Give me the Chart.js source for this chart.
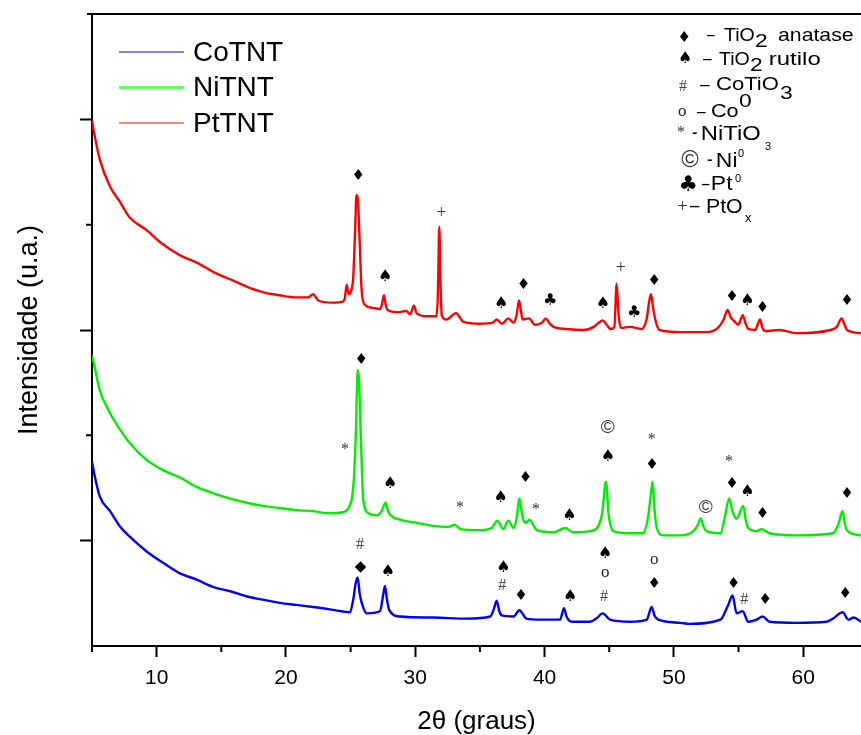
<!DOCTYPE html>
<html lang="pt">
<head>
<meta charset="UTF-8" />
<script src="https://cdn.jsdelivr.net/npm/chart.js@4.4.0/dist/chart.umd.min.js"></script>
<title>DRX - TNT</title>
<style>
  html, body { margin: 0; padding: 0; background: #fff; }
  canvas { display: block; }
</style>
</head>
<body>
<canvas id="chart" width="861" height="735"></canvas>
<script>
// 2θ (graus) e intensidade (u.a., com deslocamento vertical) de cada amostra
const coTheta = [5.0, 5.2, 5.6, 6.4, 7.2, 7.9, 9.2, 10.5, 11.8, 13.1, 14.4, 15.7, 17.0, 18.2, 19.5, 20.8, 22.1, 23.3, 24.3, 24.95, 25.2, 25.4, 25.54, 25.7, 25.86, 26.25, 27.27, 27.5, 27.66, 27.8, 27.99, 28.8, 31.4, 34.0, 35.8, 36.1, 36.3, 36.5, 36.7, 37.6, 38.05, 38.6, 39.65, 41.2, 41.5, 41.7, 42.1, 43.5, 44.0, 44.5, 45.06, 46.6, 47.9, 48.28, 48.5, 48.8, 50.5, 51.2, 53.6, 54.2, 54.54, 54.85, 55.32, 55.75, 56.4, 56.86, 57.4, 59.5, 61.8, 62.3, 63.05, 63.5, 63.9, 64.47];
const coInt = [1.75, 1.62, 1.42, 1.28, 1.13, 1.04, 0.90, 0.79, 0.69, 0.63, 0.56, 0.52, 0.47, 0.44, 0.41, 0.39, 0.37, 0.35, 0.33, 0.32, 0.44, 0.60, 0.65, 0.50, 0.41, 0.31, 0.33, 0.47, 0.57, 0.45, 0.34, 0.28, 0.27, 0.26, 0.28, 0.36, 0.43, 0.33, 0.29, 0.28, 0.34, 0.26, 0.25, 0.25, 0.36, 0.28, 0.23, 0.23, 0.26, 0.31, 0.25, 0.23, 0.25, 0.37, 0.29, 0.25, 0.22, 0.21, 0.25, 0.39, 0.48, 0.31, 0.33, 0.23, 0.25, 0.28, 0.23, 0.22, 0.23, 0.26, 0.32, 0.25, 0.27, 0.23];

const niTheta = [5.0, 5.2, 5.6, 6.4, 7.2, 7.9, 9.2, 10.5, 11.8, 13.1, 14.4, 15.7, 17.0, 18.2, 19.5, 20.8, 22.1, 23.2, 24.4, 24.8, 24.95, 25.1, 25.25, 25.4, 25.55, 25.65, 25.8, 25.98, 26.4, 27.0, 27.4, 27.7, 27.9, 28.1, 28.8, 30.1, 31.4, 32.5, 33.07, 33.5, 35.0, 35.9, 36.35, 36.8, 37.2, 37.6, 37.85, 38.05, 38.2, 38.35, 38.6, 38.82, 39.4, 40.7, 41.6, 42.2, 43.5, 44.2, 44.45, 44.75, 44.95, 45.1, 45.3, 46.6, 47.6, 48.0, 48.2, 48.35, 48.5, 48.66, 49.2, 50.5, 51.5, 51.85, 52.07, 52.3, 52.53, 53.6, 53.95, 54.27, 54.55, 54.85, 55.37, 55.55, 55.75, 56.4, 56.8, 57.4, 59.5, 62.3, 62.7, 63.05, 63.2, 63.36, 64.47];
const niInt = [2.76, 2.65, 2.43, 2.21, 2.05, 1.93, 1.77, 1.67, 1.60, 1.51, 1.45, 1.40, 1.36, 1.33, 1.31, 1.29, 1.28, 1.26, 1.27, 1.30, 1.34, 1.40, 1.58, 2.00, 2.62, 2.52, 1.95, 1.39, 1.26, 1.24, 1.28, 1.36, 1.28, 1.24, 1.20, 1.17, 1.14, 1.13, 1.15, 1.11, 1.10, 1.12, 1.19, 1.11, 1.19, 1.12, 1.22, 1.40, 1.30, 1.20, 1.17, 1.20, 1.10, 1.08, 1.12, 1.08, 1.09, 1.15, 1.26, 1.56, 1.25, 1.15, 1.09, 1.07, 1.07, 1.22, 1.42, 1.56, 1.30, 1.13, 1.05, 1.05, 1.09, 1.15, 1.21, 1.13, 1.09, 1.07, 1.23, 1.40, 1.27, 1.21, 1.33, 1.20, 1.12, 1.09, 1.11, 1.07, 1.05, 1.07, 1.15, 1.28, 1.18, 1.10, 1.05];

const ptTheta = [5.0, 5.2, 5.6, 6.4, 7.2, 7.9, 9.2, 10.3, 11.8, 13.1, 14.4, 15.7, 17.0, 18.2, 19.5, 20.8, 21.7, 22.1, 22.5, 23.6, 24.4, 24.55, 24.7, 24.85, 25.0, 25.2, 25.35, 25.45, 25.55, 25.7, 25.85, 26.1, 26.7, 27.3, 27.45, 27.58, 27.7, 27.85, 28.6, 29.3, 29.6, 29.9, 30.1, 30.9, 31.65, 31.75, 31.86, 31.95, 32.05, 32.4, 33.15, 33.7, 35.0, 36.0, 36.3, 36.7, 37.2, 37.6, 37.85, 38.02, 38.15, 38.3, 38.8, 39.26, 39.8, 40.1, 40.4, 40.7, 41.7, 43.0, 43.8, 44.2, 44.5, 44.8, 45.1, 45.4, 45.57, 45.72, 45.9, 46.6, 47.5, 47.9, 48.1, 48.23, 48.35, 48.54, 48.9, 50.5, 52.5, 53.4, 53.85, 54.15, 54.4, 54.7, 54.98, 55.32, 55.55, 55.75, 56.3, 56.5, 56.66, 56.85, 57.05, 58.2, 59.5, 62.1, 62.6, 62.97, 63.2, 63.4, 64.47];
const ptInt = [4.99, 4.85, 4.62, 4.36, 4.21, 4.07, 3.95, 3.83, 3.71, 3.64, 3.55, 3.48, 3.41, 3.36, 3.33, 3.31, 3.31, 3.34, 3.28, 3.26, 3.27, 3.30, 3.43, 3.34, 3.36, 3.50, 3.95, 4.28, 4.25, 3.85, 3.38, 3.24, 3.21, 3.20, 3.26, 3.33, 3.25, 3.19, 3.17, 3.18, 3.15, 3.23, 3.16, 3.13, 3.13, 3.35, 3.98, 3.45, 3.14, 3.10, 3.16, 3.08, 3.06, 3.07, 3.10, 3.06, 3.11, 3.07, 3.15, 3.28, 3.20, 3.10, 3.11, 3.05, 3.07, 3.11, 3.06, 3.03, 3.01, 3.00, 3.03, 3.07, 3.09, 3.05, 3.01, 3.03, 3.44, 3.15, 3.02, 3.03, 3.01, 3.11, 3.28, 3.34, 3.25, 3.11, 3.00, 2.98, 2.98, 3.02, 3.10, 3.19, 3.12, 3.08, 3.05, 3.14, 3.06, 3.01, 3.00, 3.06, 3.10, 3.02, 2.99, 3.00, 2.97, 3.00, 3.03, 3.11, 3.05, 3.00, 2.97];

// identificação das fases sobre cada difratograma
const coMarkTheta = [25.73, 25.78, 27.87, 36.81, 36.73, 38.15, 41.97, 44.67, 44.67, 44.6, 48.47, 48.47, 54.6, 55.45, 57.05, 63.24];
const coMarkLevel = [0.975, 0.75, 0.72, 0.76, 0.58, 0.49, 0.48, 0.89, 0.69, 0.48, 0.82, 0.60, 0.60, 0.45, 0.45, 0.51];
const coMarkSym = ['#', '◆', '♠', '♠', '#', '♦', '♠', '♠', 'o', '#', 'o', '♦', '♦', '#', '♦', '♦'];

const niMarkTheta = [25.8, 24.57, 28.05, 33.46, 36.6, 38.5, 39.34, 41.9, 44.88, 44.88, 48.28, 48.28, 52.46, 54.27, 54.47, 55.68, 56.84, 63.37];
const niMarkLevel = [2.73, 1.89, 1.56, 1.34, 1.42, 1.61, 1.32, 1.25, 2.08, 1.81, 1.99, 1.73, 1.32, 1.78, 1.55, 1.48, 1.27, 1.46];
const niMarkSym = ['♦', '*', '♠', '*', '♠', '♦', '*', '♠', '©', '♠', '*', '♦', '©', '*', '♦', '♠', '♦', '♦'];

const ptMarkTheta = [25.57, 27.66, 32.0, 36.63, 38.36, 40.42, 44.5, 45.89, 46.92, 48.47, 54.47, 55.68, 56.84, 63.37];
const ptMarkLevel = [4.48, 3.52, 4.13, 3.27, 3.44, 3.29, 3.27, 3.61, 3.18, 3.48, 3.33, 3.29, 3.22, 3.29];
const ptMarkSym = ['♦', '♠', '+', '♠', '♦', '♣', '♠', '+', '♣', '♦', '♦', '♠', '♦', '♦'];

const xTicks = [10, 20, 30, 40, 50, 60];
const xMinorTicks = [5, 15, 25, 35, 45, 55];
const yTicks = [1, 3, 5];
const yMinorTicks = [2, 4];

const SANS = '"Liberation Sans", Arial, sans-serif';
const SERIF = '"Liberation Serif", "Times New Roman", serif';

const pts = (xs, ys) => xs.map((x, i) => ({ x: x, y: ys[i] }));

const glyphStyle = {
  '♦': { font: '15px "DejaVu Sans"', color: '#000' },
  '◆': { font: '15px "DejaVu Sans"', color: '#000' },
  '♠': { font: '16px "DejaVu Sans"', color: '#000' },
  '♣': { font: '16px "DejaVu Sans"', color: '#000' },
  '#': { font: '16px ' + SERIF, color: '#444' },
  'o': { font: '17px ' + SERIF, color: '#222' },
  '*': { font: '16px ' + SERIF, color: '#333' },
  '+': { font: '18px ' + SERIF, color: '#333' },
  '©': { font: '19px ' + SANS, color: '#333' }
};

// desenha um símbolo centrado em (cx, cy) pela caixa real do glifo
function drawGlyph(ctx, s, cx, cy, k) {
  const st = glyphStyle[s];
  ctx.save();
  ctx.translate(cx, cy);
  if (k) ctx.scale(k, k);
  ctx.font = st.font;
  ctx.fillStyle = st.color;
  ctx.textAlign = 'left';
  ctx.textBaseline = 'alphabetic';
  const m = ctx.measureText(s);
  const w = m.actualBoundingBoxLeft + m.actualBoundingBoxRight;
  const h = m.actualBoundingBoxAscent + m.actualBoundingBoxDescent;
  ctx.fillText(s, -w / 2 + m.actualBoundingBoxLeft, h / 2 - m.actualBoundingBoxDescent);
  ctx.restore();
}

const phaseMarks = {
  id: 'phaseMarks',
  afterDatasetsDraw(chart) {
    const { ctx, scales: { x, y } } = chart;
    const sets = [
      [coMarkTheta, coMarkLevel, coMarkSym],
      [niMarkTheta, niMarkLevel, niMarkSym],
      [ptMarkTheta, ptMarkLevel, ptMarkSym]
    ];
    sets.forEach(([th, lv, sy]) => {
      th.forEach((t, i) => drawGlyph(ctx, sy[i], x.getPixelForValue(t), y.getPixelForValue(lv[i])));
    });
  }
};

// legenda das fases (canto superior direito): [texto, x, linha de base, tamanho, largura]
const keyRows = [
  { sym: '♦', cx: 684, cy: 36, k: 1, parts: [['–', 707, 40, 19, 8], ['TiO', 724, 40.5, 19, 30], ['2', 755, 47, 19, 12], ['anatase', 778, 40.5, 19, 75]] },
  { sym: '♠', cx: 685, cy: 57, k: 1, parts: [['–', 703, 64, 19, 9], ['TiO', 719, 64.5, 19, 30], ['2', 750, 70.5, 19, 12], ['rutilo', 770, 64.5, 19, 50]] },
  { sym: '#', cx: 683, cy: 85, k: 1, parts: [['–', 700, 90, 19, 10], ['CoTiO', 716, 90, 19, 62], ['3', 780, 98.5, 19, 12]] },
  { sym: 'o', cx: 682, cy: 112, k: 1, parts: [['–', 697, 116.5, 19, 9], ['Co', 711, 116.5, 19, 27], ['0', 739, 107, 19, 12]] },
  { sym: '*', cx: 681, cy: 129, k: 1, parts: [['-', 692, 139, 20, 5], ['NiTiO', 702, 140, 20, 58], ['3', 765, 150, 11, 6]] },
  { sym: '©', cx: 690, cy: 158.5, k: 1.25, parts: [['-', 707, 166, 20, 5], ['Ni', 717, 167, 20, 20], ['0', 738, 157, 11, 6]] },
  { sym: '♣', cx: 688, cy: 182.5, k: 1.35, parts: [['–', 702, 190, 20, 8], ['Pt', 712, 190, 20, 21], ['0', 735, 182, 11, 6]] },
  { sym: '+', cx: 682.5, cy: 205, k: 1, parts: [['–', 690, 212, 20, 10], ['PtO', 707, 213, 20, 35], ['x', 745, 222, 13, 7]] }
];

const phaseKey = {
  id: 'phaseKey',
  afterDraw(chart) {
    const ctx = chart.ctx;
    keyRows.forEach(row => {
      drawGlyph(ctx, row.sym, row.cx, row.cy, row.k);
      row.parts.forEach(([t, px, py, size, wd]) => {
        ctx.save();
        ctx.font = size + 'px ' + SANS;
        ctx.fillStyle = '#000';
        ctx.textAlign = 'left';
        ctx.textBaseline = 'alphabetic';
        const m = ctx.measureText(t);
        const ink = m.actualBoundingBoxLeft + m.actualBoundingBoxRight;
        const sx = wd / ink;
        ctx.translate(px + m.actualBoundingBoxLeft * sx, py);
        ctx.scale(sx, 1);
        ctx.fillText(t, 0, 0);
        ctx.restore();
      });
    });
  }
};

// legenda das amostras, dentro da área do gráfico
const sampleLegend = {
  id: 'sampleLegend',
  afterDraw(chart) {
    const ctx = chart.ctx;
    ctx.save();
    chart.data.datasets.forEach((ds, i) => {
      const yy = 52 + i * 35.5;
      ctx.strokeStyle = ds.legendColor;
      ctx.lineWidth = ds.legendWidth;
      ctx.beginPath();
      ctx.moveTo(119, yy);
      ctx.lineTo(184, yy);
      ctx.stroke();
      ctx.fillStyle = '#000';
      ctx.font = '28px ' + SANS;
      ctx.textAlign = 'left';
      ctx.textBaseline = 'middle';
      ctx.fillText(ds.label, 193, yy + 1);
    });
    ctx.restore();
  }
};

// moldura superior e marcas secundárias dos eixos
const frame = {
  id: 'frame',
  afterDraw(chart) {
    const { ctx, chartArea: a, scales: { x, y } } = chart;
    ctx.save();
    ctx.strokeStyle = '#000';
    ctx.lineWidth = 2;
    ctx.beginPath();
    ctx.moveTo(a.left - 5, a.top);
    ctx.lineTo(a.right, a.top);
    ctx.stroke();
    ctx.beginPath();
    xMinorTicks.forEach(v => {
      const px = x.getPixelForValue(v);
      ctx.moveTo(px, a.bottom);
      ctx.lineTo(px, a.bottom + 6);
    });
    yMinorTicks.forEach(v => {
      const py = y.getPixelForValue(v);
      ctx.moveTo(a.left, py);
      ctx.lineTo(a.left - 6, py);
    });
    ctx.stroke();
    ctx.restore();
  }
};

new Chart(document.getElementById('chart'), {
  type: 'line',
  data: {
    datasets: [
      { label: 'CoTNT', data: pts(coTheta, coInt), borderColor: '#0000ff', legendColor: '#0000ff', legendWidth: 1.2 },
      { label: 'NiTNT', data: pts(niTheta, niInt), borderColor: '#00ee00', legendColor: '#66ff66', legendWidth: 3 },
      { label: 'PtTNT', data: pts(ptTheta, ptInt), borderColor: '#ff0000', legendColor: '#ff0000', legendWidth: 1.2 }
    ]
  },
  options: {
    responsive: false,
    animation: false,
    events: [],
    layout: { padding: { top: 14, right: 0, bottom: 0, left: 0 } },
    elements: {
      line: { borderWidth: 2.4, cubicInterpolationMode: 'monotone' },
      point: { radius: 0 }
    },
    plugins: { legend: { display: false }, tooltip: { enabled: false } },
    scales: {
      x: {
        type: 'linear',
        min: 5,
        max: 64.47,
        afterFit(s) { s.height = 89; },
        afterBuildTicks(s) { s.ticks = xTicks.map(v => ({ value: v })); },
        border: { color: '#000', width: 2 },
        grid: { drawOnChartArea: false, tickLength: 11, tickWidth: 2, tickColor: '#000' },
        ticks: { color: '#000', font: { family: SANS, size: 21 }, padding: 9, maxRotation: 0, autoSkip: false },
        title: { display: true, text: '2θ (graus)', color: '#000', font: { family: SANS, size: 26, lineHeight: 1 }, padding: { top: 0, bottom: 0 } }
      },
      y: {
        min: 0,
        max: 6,
        afterFit(s) { s.width = 92; },
        afterBuildTicks(s) { s.ticks = yTicks.map(v => ({ value: v })); },
        border: { color: '#000', width: 2 },
        grid: { drawOnChartArea: false, tickLength: 12, tickWidth: 2, tickColor: '#000' },
        ticks: { display: false },
        title: { display: true, text: 'Intensidade (u.a.)', color: '#000', font: { family: SANS, size: 27, lineHeight: 1 }, padding: { top: 16, bottom: 0 } }
      }
    }
  },
  plugins: [phaseMarks, phaseKey, sampleLegend, frame]
});
</script>
</body>
</html>
